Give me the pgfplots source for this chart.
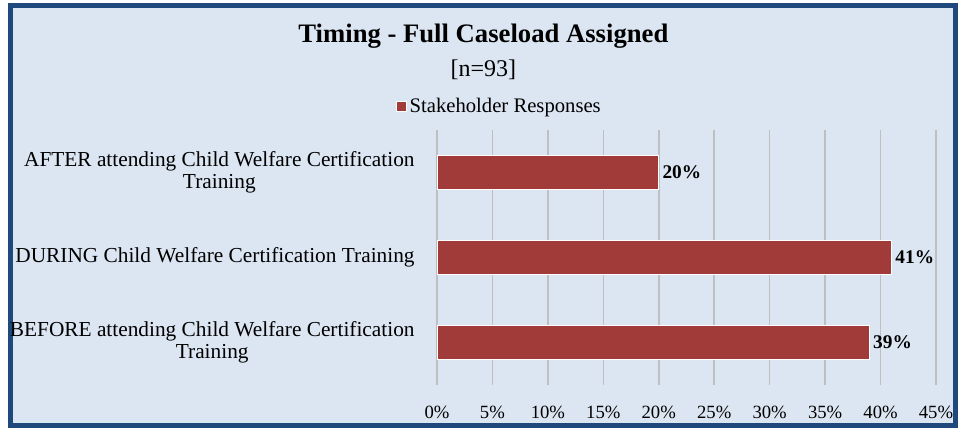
\documentclass[border=0pt]{standalone}
\usepackage{fontspec}
\setmainfont{Liberation Serif}
\usepackage{pgfplots}
\pgfplotsset{compat=1.18}
\definecolor{bgblue}{HTML}{DCE6F2}
\definecolor{frameblue}{HTML}{1F497D}
\definecolor{barred}{HTML}{A03B39}
\definecolor{gridgray}{HTML}{BFBFBF}
\begin{document}
\begin{tikzpicture}
% page and frame (1px = 0.75pt, axis corner at px (437,385))
\path[fill=white] (-327.75pt,-34.5pt) rectangle (395.25pt,288.75pt);
\draw[fill=bgblue, draw=frameblue, line width=3.75pt] (-320pt,-30.4pt) rectangle (389pt,284.6pt);
\begin{axis}[
  at={(0,0)}, anchor=south west,
  scale only axis, width=374.25pt, height=191.25pt,
  xbar, bar width=25.5pt,
  xmin=0, xmax=45, ymin=-0.5, ymax=2.5,
  xtick={0,5,...,45},
  xticklabel={\pgfmathprintnumber{\tick}\%},
  /pgf/number format/assume math mode=true,
  ytick={0,1,2},
  yticklabels={{BEFORE attending Child Welfare Certification\\Training},
               {DURING Child Welfare Certification Training},
               {AFTER attending Child Welfare Certification\\Training}},
  yticklabel style={align=center, font=\fontsize{16}{16.5}\selectfont, xshift=-9pt},
  xticklabel style={font=\fontsize{14}{15}\selectfont, yshift=-12pt},
  axis line style={draw=none},
  major tick style={draw=none},
  xmajorgrids, grid style={gridgray, line width=1.1pt},
  axis background/.style={fill=bgblue},
  title={{\fontsize{20}{22}\selectfont\textbf{Timing - Full Caseload Assigned}}\\[6pt]{}[n=93]},
  title style={at={(0.093,1.275)}, anchor=center, align=center, font=\fontsize{18}{20}\selectfont},
  legend style={at={(0.126,1.094)}, anchor=center, draw=none, fill=none,
    font=\fontsize{15.5}{16}\selectfont},
  legend image code/.code={\draw[fill=barred, draw=white, line width=0.5pt] (0pt,-3.75pt) rectangle (7.5pt,3.75pt);},
  nodes near coords={\textbf{\pgfmathprintnumber{\pgfplotspointmeta}\%}},
  point meta=x,
  nodes near coords style={anchor=west, font=\fontsize{14.5}{15}\selectfont, xshift=-1pt},
]
\addplot[fill=barred, draw=white, line width=1pt] coordinates {(39,0) (41,1) (20,2)};
\addlegendentry{Stakeholder Responses}
\end{axis}
\end{tikzpicture}
\end{document}
